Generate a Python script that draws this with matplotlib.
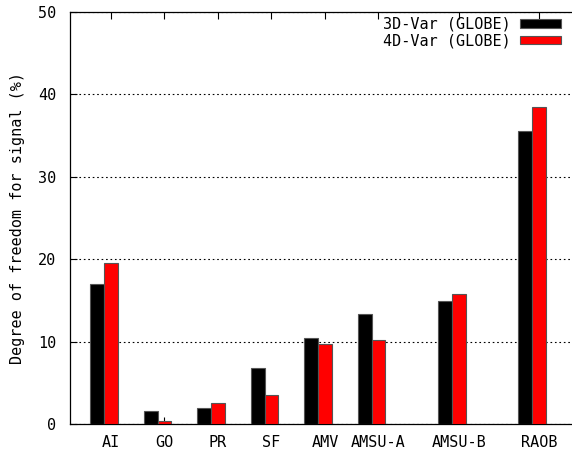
import numpy as np
import matplotlib
matplotlib.use('Agg')
import matplotlib.pyplot as plt

cats = ['AI', 'GO', 'PR', 'SF', 'AMV', 'AMSU-A', 'AMSU-B', 'RAOB']
xpos = [1, 2, 3, 4, 5, 6, 7.5, 9]  # gnuplot spacing, last two wider apart
var3d = [17.0, 1.6, 2.0, 6.8, 10.4, 13.3, 14.95, 35.6]
var4d = [19.5, 0.35, 2.6, 3.55, 9.7, 10.2, 15.8, 38.5]

plt.rcParams['font.family'] = 'DejaVu Sans Mono'
plt.rcParams['font.size'] = 10.9

fig = plt.figure(figsize=(5.72, 4.51), dpi=100)
ax = fig.add_axes([70/572, 27/451, 502/572, 412/451])

x = np.array(xpos)
w = 0.26
# black bar left of the tick, red bar centred on it
ax.bar(x - w, var3d, width=w, color='black', edgecolor='#555555', lw=0.8,
       label='3D-Var (GLOBE)', zorder=3)
ax.bar(x, var4d, width=w, color='red', edgecolor='#555555', lw=0.8,
       label='4D-Var (GLOBE)', zorder=3)

ax.set_xlim(0.234, 9.617)
ax.set_ylim(0, 50)
ax.set_xticks(x)
ax.set_xticklabels(cats)
ax.set_yticks([0, 10, 20, 30, 40, 50])
ax.tick_params(direction='in', length=5, top=True, right=False, width=0.8, pad=8)
ax.tick_params(axis='y', pad=10)
ax.yaxis.grid(True, linestyle=(0, (1.5, 2.5)), color='black', lw=0.8, zorder=0)
ax.spines['right'].set_visible(False)
for s in ['left', 'top', 'bottom']:
    ax.spines[s].set_linewidth(0.9)
ax.set_ylabel('Degree of freedom for signal (%)', labelpad=9)

leg = ax.legend(loc='upper right', bbox_to_anchor=(0.978, 0.988), frameon=False,
                markerfirst=False, handlelength=2.7, handleheight=0.45,
                labelspacing=0.08, handletextpad=0.6, borderaxespad=0, borderpad=0)

fig.savefig('out.png', dpi=100)
